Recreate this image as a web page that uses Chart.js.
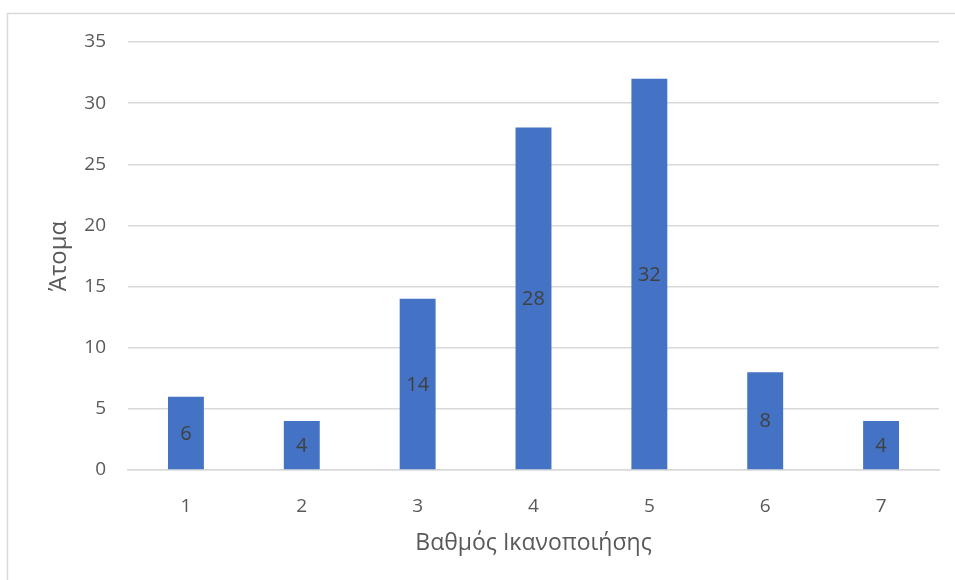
<!DOCTYPE html>
<html>
<head>
<meta charset="utf-8">
<script src="https://cdn.jsdelivr.net/npm/chart.js@4/dist/chart.umd.min.js"></script>
<style>
  html, body { margin: 0; padding: 0; background: #ffffff; }
  #wrap { position: relative; width: 955px; height: 580px; }
</style>
</head>
<body>
<div id="wrap"><canvas id="c" width="955" height="580"></canvas></div>
<script>
// Satisfaction score categories and number of people per score
const scores = ['1', '2', '3', '4', '5', '6', '7'];
const people = [6, 4, 14, 28, 32, 8, 4];
const yTicks = [0, 5, 10, 15, 20, 25, 30, 35];

const FONT = "'Open Sans', 'Noto Sans', sans-serif";

// Light frame around the whole chart
const framePlugin = {
  id: 'frame',
  beforeDraw(chart) {
    const ctx = chart.ctx;
    ctx.save();
    ctx.strokeStyle = '#d9d9d9';
    ctx.lineWidth = 1.5;
    ctx.strokeRect(7.5, 13.5, 1000, 700);
    ctx.restore();
  }
};

// Value labels centred inside each bar
const valueLabels = {
  id: 'valueLabels',
  afterDatasetsDraw(chart) {
    const ctx = chart.ctx;
    const meta = chart.getDatasetMeta(0);
    ctx.save();
    ctx.font = '20px ' + FONT;
    ctx.fillStyle = '#404040';
    ctx.textAlign = 'center';
    ctx.textBaseline = 'middle';
    meta.data.forEach((bar, i) => {
      const v = chart.data.datasets[0].data[i];
      ctx.fillText(String(v), bar.x, (bar.y + bar.base) / 2 + 1);
    });
    ctx.restore();
  }
};

new Chart(document.getElementById('c'), {
  type: 'bar',
  data: {
    labels: scores,
    datasets: [{
      label: 'Άτομα',
      data: people,
      backgroundColor: '#4472c4',
      borderWidth: 0,
      categoryPercentage: 1,
      barPercentage: 0.31
    }]
  },
  options: {
    responsive: false,
    animation: false,
    devicePixelRatio: 1,
    layout: { padding: { top: 42, right: 16, bottom: 0, left: 0 } },
    plugins: { legend: { display: false }, tooltip: { enabled: false } },
    scales: {
      x: {
        grid: { display: false },
        border: { display: true, color: '#d9d9d9', width: 1.5 },
        ticks: { color: '#595959', font: { family: FONT, size: 19 }, padding: 17 },
        title: {
          display: true, text: 'Βαθμός Ικανοποιήσης', color: '#595959',
          font: { family: FONT, size: 23 }, padding: { top: 8, bottom: 23 }
        },
        afterFit(scale) { scale.height = 110; }
      },
      y: {
        min: 0, max: 35,
        afterBuildTicks(scale) { scale.ticks = yTicks.map(v => ({ value: v })); },
        grid: { color: '#d9d9d9', lineWidth: 1.5, drawTicks: false },
        border: { display: false },
        ticks: { color: '#595959', font: { family: FONT, size: 19 }, padding: 22 },
        title: {
          display: true, text: 'Άτομα', color: '#595959',
          font: { family: FONT, size: 24 }, padding: { top: 45, bottom: 0 }
        },
        afterFit(scale) { scale.width = 128; }
      }
    }
  },
  plugins: [framePlugin, valueLabels]
});
</script>
</body>
</html>
